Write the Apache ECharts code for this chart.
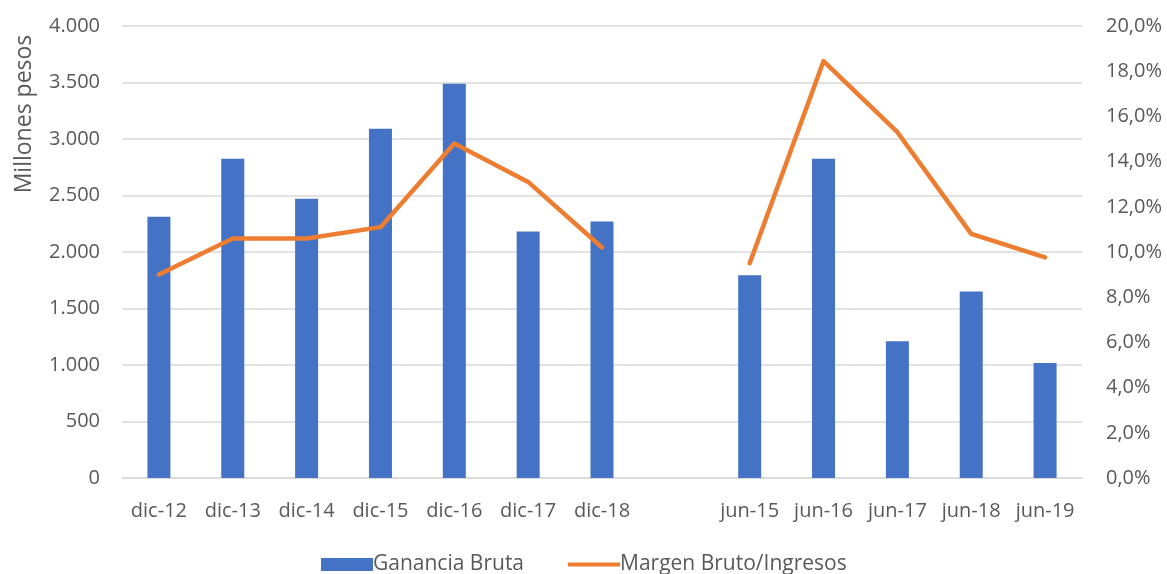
<!DOCTYPE html>
<html>
<head>
<meta charset="utf-8">
<script src="https://cdn.jsdelivr.net/npm/echarts@6/dist/echarts.min.js"></script>
<style>
  html, body { margin: 0; padding: 0; background: #fff; }
  #main { width: 1167px; height: 574px; }
</style>
</head>
<body>
<div id="main"></div>
<script>
// categorias (hueco vacio entre diciembre y junio)
let categories = ['dic-12', 'dic-13', 'dic-14', 'dic-15', 'dic-16', 'dic-17', 'dic-18', '',
    'jun-15', 'jun-16', 'jun-17', 'jun-18', 'jun-19'];
// millones de pesos
let gananciaBruta = [2313, 2826, 2472, 3091, 3488, 2181, 2269, null,
    1795, 2826, 1210, 1651, 1018];
// porcentaje
let margenBruto = [9.0, 10.6, 10.6, 11.1, 14.8, 13.1, 10.2, null,
    9.5, 18.45, 15.3, 10.8, 9.76];

let chartDom = document.getElementById('main');
let myChart = echarts.init(chartDom);

let textColor = '#595959';
let fontFamily = '"Open Sans", sans-serif';

function miles(v) {
    return String(v).replace(/\B(?=(\d{3})+(?!\d))/g, '.');
}

// icono de linea fino para la leyenda (los M extienden la caja)
let lineIcon = 'path://M0,0 M0,13 M0,4.5 L52,4.5 L52,8.5 L0,8.5 Z';

let option = {
    animation: false,
    textStyle: { fontFamily: fontFamily },
    grid: { left: 122, right: 85, top: 26, bottom: 96 },
    legend: {
        top: 549,
        left: 316,
        itemWidth: 52,
        itemHeight: 13,
        itemGap: 44,
        textStyle: { color: textColor, fontSize: 21, fontFamily: fontFamily, padding: [0, 0, 0, -5] },
        data: [
            { name: 'Ganancia Bruta', icon: 'rect' },
            { name: 'Margen Bruto/Ingresos', icon: lineIcon }
        ]
    },
    graphic: [{
        type: 'text',
        x: 24,
        y: 114,
        rotation: Math.PI / 2,
        style: {
            text: 'Millones pesos',
            fill: textColor,
            fontSize: 23,
            fontFamily: fontFamily,
            align: 'center',
            verticalAlign: 'middle'
        }
    }],
    xAxis: [{
        type: 'category',
        data: categories,
        boundaryGap: true,
        axisTick: { show: false },
        axisLine: { lineStyle: { color: '#d9d9d9', width: 1.5 } },
        axisLabel: { color: textColor, fontSize: 20, margin: 23, interval: 0 }
    }],
    yAxis: [
        {
            type: 'value',
            min: 0,
            max: 4000,
            interval: 500,
            axisLine: { show: false },
            axisTick: { show: false },
            axisLabel: { color: textColor, fontSize: 20, margin: 22, formatter: miles },
            splitLine: { lineStyle: { color: '#d9d9d9', width: 1.5 } }
        },
        {
            type: 'value',
            min: 0,
            max: 20,
            interval: 2,
            axisLine: { show: false },
            axisTick: { show: false },
            axisLabel: {
                color: textColor, fontSize: 20, margin: 24,
                formatter: v => v.toFixed(1).replace('.', ',') + '%'
            },
            splitLine: { show: false }
        }
    ],
    series: [
        {
            name: 'Ganancia Bruta',
            type: 'bar',
            data: gananciaBruta,
            barWidth: 23,
            itemStyle: { color: '#4472C4' }
        },
        {
            name: 'Margen Bruto/Ingresos',
            type: 'line',
            yAxisIndex: 1,
            data: margenBruto,
            symbol: 'none',
            connectNulls: false,
            lineStyle: { color: '#ED7D31', width: 4.5, cap: 'round', join: 'round' },
            itemStyle: { color: '#ED7D31' }
        }
    ]
};

option && myChart.setOption(option);
</script>
</body>
</html>
